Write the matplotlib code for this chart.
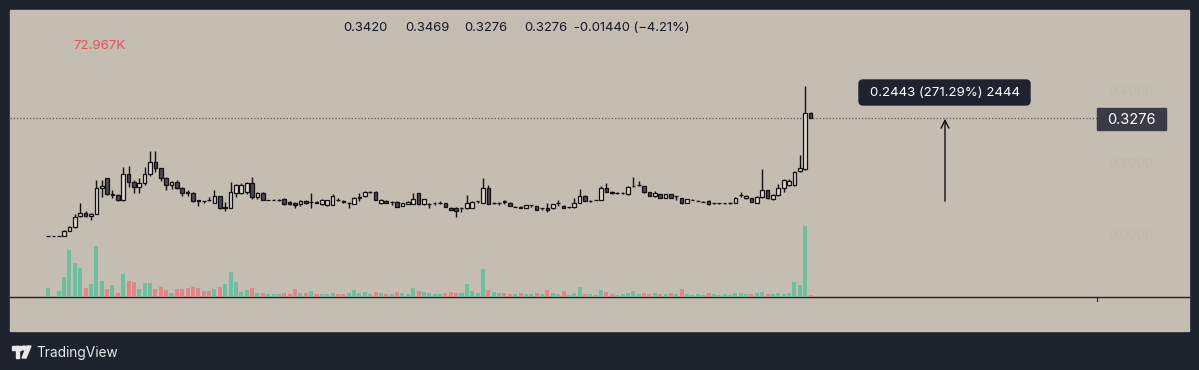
import numpy as np
import matplotlib
matplotlib.use('Agg')
import matplotlib.pyplot as plt
from matplotlib.patches import Rectangle, FancyBboxPatch, Circle, Polygon

plt.rcParams['font.family'] = ['Inter', 'DejaVu Sans']

# OHLC (price), one entry per candle
opens = [0.001, 0.001, 0.001, 0.002, 0.016, 0.025, 0.058, 0.064, 0.058, 0.063,
         0.134, 0.161, 0.115, 0.115, 0.100, 0.172, 0.152, 0.138, 0.147, 0.172,
         0.208, 0.189, 0.161, 0.143, 0.152, 0.134, 0.124, 0.120, 0.100, 0.098,
         0.101, 0.094, 0.112, 0.080, 0.080, 0.120, 0.121, 0.124, 0.147, 0.110,
         0.120, 0.101, 0.101, 0.101, 0.103, 0.096, 0.094, 0.089, 0.098, 0.095,
         0.096, 0.089, 0.087, 0.087, 0.102, 0.099, 0.093, 0.090, 0.108, 0.112,
         0.122, 0.124, 0.093, 0.099, 0.096, 0.096, 0.085, 0.090, 0.090, 0.120,
         0.090, 0.090, 0.092, 0.094, 0.092, 0.080, 0.080, 0.080, 0.078, 0.080,
         0.097, 0.094, 0.134, 0.092, 0.092, 0.097, 0.094, 0.083, 0.083, 0.080,
         0.086, 0.084, 0.078, 0.080, 0.078, 0.092, 0.084, 0.081, 0.081, 0.094,
         0.113, 0.099, 0.101, 0.101, 0.134, 0.124, 0.120, 0.120, 0.117, 0.140,
         0.143, 0.140, 0.122, 0.112, 0.117, 0.108, 0.117, 0.112, 0.106, 0.094,
         0.101, 0.098, 0.096, 0.099, 0.092, 0.092, 0.092, 0.094, 0.094, 0.115,
         0.106, 0.106, 0.094, 0.110, 0.129, 0.103, 0.115, 0.134, 0.143, 0.143,
         0.182, 0.186, 0.3420]
highs = [0.001, 0.001, 0.001, 0.018, 0.030, 0.063, 0.092, 0.070, 0.066, 0.157,
         0.157, 0.162, 0.130, 0.118, 0.194, 0.196, 0.157, 0.161, 0.194, 0.238,
         0.236, 0.190, 0.165, 0.155, 0.156, 0.138, 0.130, 0.122, 0.101, 0.099,
         0.110, 0.129, 0.113, 0.096, 0.152, 0.145, 0.147, 0.152, 0.165, 0.122,
         0.122, 0.102, 0.103, 0.103, 0.106, 0.098, 0.096, 0.101, 0.100, 0.120,
         0.098, 0.103, 0.102, 0.117, 0.106, 0.100, 0.095, 0.110, 0.120, 0.126,
         0.126, 0.126, 0.104, 0.101, 0.098, 0.097, 0.094, 0.097, 0.120, 0.121,
         0.105, 0.092, 0.095, 0.097, 0.094, 0.081, 0.081, 0.081, 0.115, 0.098,
         0.099, 0.161, 0.143, 0.096, 0.096, 0.101, 0.095, 0.085, 0.085, 0.088,
         0.087, 0.085, 0.080, 0.092, 0.090, 0.101, 0.086, 0.082, 0.108, 0.131,
         0.115, 0.101, 0.102, 0.140, 0.147, 0.125, 0.122, 0.122, 0.140, 0.166,
         0.154, 0.141, 0.123, 0.127, 0.118, 0.118, 0.118, 0.113, 0.108, 0.104,
         0.103, 0.100, 0.098, 0.100, 0.093, 0.093, 0.093, 0.095, 0.110, 0.124,
         0.115, 0.108, 0.112, 0.186, 0.130, 0.117, 0.145, 0.159, 0.160, 0.182,
         0.226, 0.418, 0.3469]
lows = [0.001, 0.001, 0.001, 0.001, 0.014, 0.022, 0.055, 0.054, 0.045, 0.062,
        0.110, 0.115, 0.108, 0.098, 0.098, 0.138, 0.120, 0.120, 0.143, 0.168,
        0.180, 0.155, 0.130, 0.132, 0.132, 0.113, 0.112, 0.096, 0.085, 0.092,
        0.099, 0.093, 0.076, 0.071, 0.078, 0.110, 0.118, 0.118, 0.105, 0.105,
        0.100, 0.100, 0.100, 0.099, 0.088, 0.088, 0.080, 0.085, 0.090, 0.080,
        0.092, 0.088, 0.085, 0.086, 0.099, 0.094, 0.078, 0.089, 0.098, 0.110,
        0.120, 0.100, 0.091, 0.093, 0.087, 0.082, 0.084, 0.089, 0.089, 0.088,
        0.088, 0.078, 0.087, 0.089, 0.082, 0.072, 0.055, 0.069, 0.077, 0.079,
        0.094, 0.093, 0.089, 0.090, 0.087, 0.090, 0.084, 0.082, 0.079, 0.079,
        0.082, 0.072, 0.072, 0.069, 0.077, 0.085, 0.078, 0.080, 0.080, 0.093,
        0.098, 0.095, 0.100, 0.100, 0.122, 0.119, 0.119, 0.119, 0.116, 0.138,
        0.141, 0.121, 0.111, 0.110, 0.107, 0.107, 0.107, 0.101, 0.091, 0.093,
        0.100, 0.097, 0.095, 0.088, 0.089, 0.089, 0.089, 0.091, 0.093, 0.110,
        0.105, 0.095, 0.093, 0.108, 0.105, 0.101, 0.113, 0.124, 0.140, 0.141,
        0.180, 0.185, 0.3276]
closes = [0.001, 0.001, 0.001, 0.016, 0.025, 0.055, 0.064, 0.058, 0.063, 0.134,
          0.140, 0.117, 0.117, 0.100, 0.172, 0.152, 0.138, 0.147, 0.172, 0.208,
          0.189, 0.161, 0.143, 0.152, 0.134, 0.120, 0.120, 0.098, 0.099, 0.097,
          0.100, 0.112, 0.078, 0.082, 0.124, 0.143, 0.143, 0.147, 0.110, 0.120,
          0.101, 0.101, 0.101, 0.101, 0.090, 0.090, 0.087, 0.098, 0.093, 0.096,
          0.094, 0.101, 0.101, 0.112, 0.100, 0.096, 0.094, 0.108, 0.109, 0.124,
          0.122, 0.101, 0.101, 0.094, 0.096, 0.083, 0.093, 0.096, 0.103, 0.089,
          0.103, 0.090, 0.092, 0.094, 0.083, 0.073, 0.070, 0.080, 0.094, 0.096,
          0.097, 0.134, 0.090, 0.092, 0.092, 0.095, 0.085, 0.083, 0.080, 0.087,
          0.086, 0.073, 0.078, 0.073, 0.089, 0.092, 0.080, 0.081, 0.094, 0.112,
          0.099, 0.099, 0.101, 0.134, 0.124, 0.120, 0.120, 0.120, 0.138, 0.140,
          0.143, 0.122, 0.112, 0.120, 0.108, 0.117, 0.108, 0.112, 0.092, 0.103,
          0.101, 0.098, 0.096, 0.089, 0.092, 0.092, 0.092, 0.094, 0.108, 0.115,
          0.112, 0.096, 0.110, 0.129, 0.106, 0.115, 0.134, 0.157, 0.155, 0.180,
          0.189, 0.342, 0.3276]
# volume in thousands
volume_k = [324, 0, 216, 720, 1692, 1224, 1044, 324, 468, 1836,
            576, 288, 432, 144, 828, 576, 540, 288, 504, 504,
            288, 360, 252, 144, 288, 288, 324, 360, 324, 216,
            216, 288, 360, 468, 900, 540, 180, 252, 324, 144,
            144, 108, 108, 108, 144, 108, 288, 144, 144, 216,
            108, 108, 108, 144, 108, 108, 144, 252, 144, 180,
            108, 180, 144, 108, 108, 180, 144, 108, 324, 216,
            180, 144, 108, 108, 144, 180, 144, 144, 468, 216,
            144, 1008, 252, 180, 144, 144, 108, 108, 144, 108,
            108, 144, 108, 252, 144, 108, 216, 72, 144, 360,
            108, 108, 72, 252, 180, 108, 72, 108, 144, 216,
            108, 144, 108, 144, 108, 108, 144, 108, 288, 108,
            72, 108, 72, 144, 108, 72, 108, 72, 144, 144,
            108, 108, 144, 180, 108, 108, 144, 108, 144, 540,
            432, 2556, 73]

header_vals = ['0.3420', '0.3469', '0.3276', '0.3276', '-0.01440 (−4.21%)']
header_x = [343, 405, 464, 524, 574]
last_price = 0.3276
measure_lo, measure_hi = 0.0900, 0.3344
measure_text = '0.2443 (271.29%) 2444'
price_ticks = ['0.4000', '0.2000', '0.0000']
price_tick_vals = [0.4, 0.2, 0.0]

W, H = 1199, 370
BG = '#c4bdb2'
FRAME = '#1e222d'

fig = plt.figure(figsize=(W / 100, H / 100), dpi=100, facecolor=FRAME)

# pixel-space overlay for the frame, labels and logo
bg = fig.add_axes([0, 0, 1, 1], zorder=0)
bg.set_xlim(0, W)
bg.set_ylim(H, 0)
bg.axis('off')
bg.add_patch(Rectangle((10, 10), 1179, 321, color=BG, zorder=0))
bg.plot([10, 1189], [297, 297], color='#222222', lw=1.0, zorder=2)
bg.plot([1097, 1097], [297, 301], color='#222222', lw=0.8, zorder=2)

# chart pane: x 10..1097, y 10..297 px
x0_px, dx_px = 48, 5.37
ax = fig.add_axes([10 / W, (H - 297) / H, 1087 / W, 287 / H], zorder=1)
ax.patch.set_alpha(0)
ax.set_xlim((10 - x0_px) / dx_px, (1097 - x0_px) / dx_px)
ax.set_ylim((236.4 - 297) / 360, (236.4 - 10) / 360)
ax.axis('off')

o = np.array(opens)
h = np.array(highs)
l = np.array(lows)
c = np.array(closes)
x = np.arange(len(o))
up = c >= o

vax = ax.twinx()
vax.set_ylim(0, max(volume_k) * 287 / 71)
vax.axis('off')
vcols = np.where(up, '#6fbea0', '#e3868a')
vax.bar(x, volume_k, width=0.75, color=vcols, linewidth=0)

ax.axhline(last_price, color='#5a5650', lw=0.9, ls=(0, (1, 1.6)), zorder=1)
ax.vlines(x, l, h, color='#111111', lw=1.0, zorder=2)
fills = np.where(up, '#dcd8d1', '#4b4a52')
ax.bar(x, np.abs(c - o), bottom=np.minimum(o, c), width=0.68,
       color=fills, edgecolor='#111111', linewidth=0.9, zorder=3)

# measurement arrow
xm = (945 - x0_px) / dx_px
ax.annotate('', xy=(xm, measure_hi), xytext=(xm, measure_lo),
            arrowprops=dict(arrowstyle='->', color='#111111', lw=1.0,
                            mutation_scale=14), zorder=4)

# measurement tooltip
bg.add_patch(FancyBboxPatch((859, 80), 171, 25, boxstyle='round,pad=0,rounding_size=4',
                            color='#1f2330', zorder=3))
bg.text(944.5, 93, measure_text, color='white', fontsize=9.5,
        ha='center', va='center', zorder=4)

# last price label
bg.add_patch(Rectangle((1097, 108), 69, 22, color='#3b3a47', zorder=3))
bg.text(1131.5, 119.5, f'{last_price:.4f}', color='white', fontsize=10.5,
        ha='center', va='center', zorder=4)

# faint price scale
for t, v in zip(price_ticks, price_tick_vals):
    bg.text(1108, 236.4 - v * 360, t, color='#beb7ac', fontsize=9.5,
            ha='left', va='center', zorder=2)

# header OHLC
for xp, s in zip(header_x, header_vals):
    bg.text(xp, 28, s, color='#131722', fontsize=9.4, ha='left', va='center', zorder=4)
bg.text(73, 46, '72.967K', color='#e8505b', fontsize=9.6, ha='left', va='center', zorder=4)

# TradingView logo
logo = '#e8e8ea'
bg.add_patch(Rectangle((12, 346), 9, 3.5, color=logo, zorder=4))
bg.add_patch(Rectangle((15.5, 346), 3.5, 12, color=logo, zorder=4))
bg.add_patch(Circle((24, 348), 2, color=logo, zorder=4))
bg.add_patch(Polygon([[27, 346], [31, 346], [26, 358], [22, 358]], color=logo, zorder=4))
bg.text(36, 352.5, 'TradingView', color=logo, fontsize=9.9, ha='left', va='center', zorder=4)

fig.savefig('out.png', dpi=100, facecolor=FRAME)
